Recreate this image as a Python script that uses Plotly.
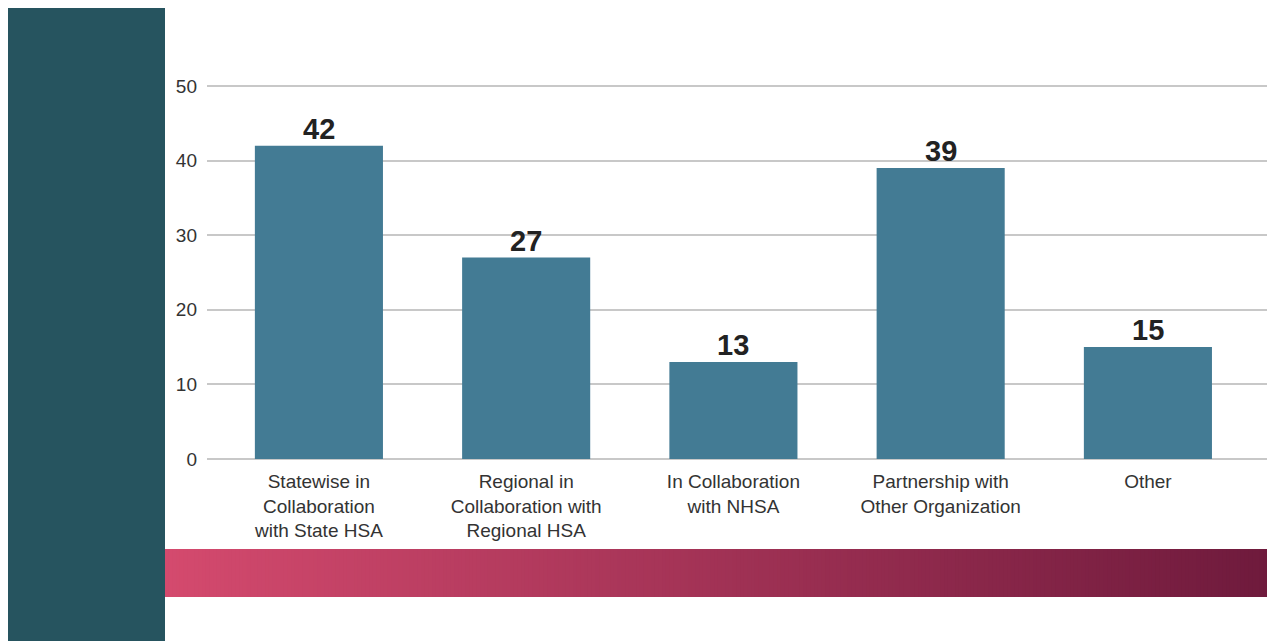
import plotly.graph_objects as go

categories = ["Statewise in<br>Collaboration<br>with State HSA",
              "Regional in<br>Collaboration with<br>Regional HSA",
              "In Collaboration<br>with NHSA",
              "Partnership with<br>Other Organization",
              "Other"]
counts = [42, 27, 13, 39, 15]
y_ticks = [0, 10, 20, 30, 40, 50]

W, H = 1290, 641
L, R, T, B = 199, 0, 76, 190
pw, ph = W - L - R, H - T - B
unit_px = 7.46
y_top = 50 + 2 / unit_px
x_left = -0.54
x_right = x_left + pw / 207.25

def px_x(px):
    return (px - L) / pw

def px_y(py):
    return (H - B - py) / ph

fig = go.Figure()
fig.add_trace(go.Bar(
    x=categories, y=counts, width=0.618,
    marker=dict(color="#437b94", line=dict(width=0)),
))

# value labels sitting right on top of the bars
for c, v in zip(categories, counts):
    fig.add_annotation(x=c, y=v, text="<b>%d</b>" % v, showarrow=False,
                       yanchor="bottom", yshift=-1,
                       font=dict(family="Liberation Sans, Arial", size=29, color="#222222"))

shapes = []
# dark band on the left
shapes.append(dict(type="rect", xref="paper", yref="paper",
                   x0=px_x(0), x1=px_x(157), y0=px_y(H + 5), y1=px_y(0),
                   fillcolor="#26545f", line=dict(width=0)))
# gradient strip under the labels
c0 = (0xd4, 0x4a, 0x6e)
c1 = (0x6e, 0x1a, 0x3c)
n = 300
x_start, x_end = 157, 1270
for i in range(n):
    t = i / (n - 1)
    col = "rgb(%d,%d,%d)" % tuple(round(a + (b - a) * t) for a, b in zip(c0, c1))
    a = x_start + (x_end - x_start) * i / n
    b = x_start + (x_end - x_start) * (i + 1) / n + 1.5
    shapes.append(dict(type="rect", xref="paper", yref="paper",
                       x0=px_x(a), x1=px_x(b), y0=px_y(589), y1=px_y(541),
                       fillcolor=col, line=dict(width=0)))

fig.update_layout(
    width=W, height=H,
    margin=dict(l=L, r=R, t=T, b=B),
    paper_bgcolor="white", plot_bgcolor="white",
    showlegend=False,
    font=dict(family="Liberation Sans, Arial", size=19, color="#333333"),
    xaxis=dict(range=[x_left, x_right], showgrid=False, showline=False, ticks="",
               ticklabelstandoff=9, tickfont=dict(size=19, color="#333333")),
    yaxis=dict(range=[0, y_top], tickvals=y_ticks, showgrid=True, gridcolor="#c8c8c8",
               gridwidth=1.5, zeroline=True, zerolinecolor="#c8c8c8", zerolinewidth=1.5,
               showline=False, ticks="", ticklabelstandoff=9,
               tickfont=dict(size=19, color="#333333")),
    shapes=shapes,
)

fig.write_html("out.html")
